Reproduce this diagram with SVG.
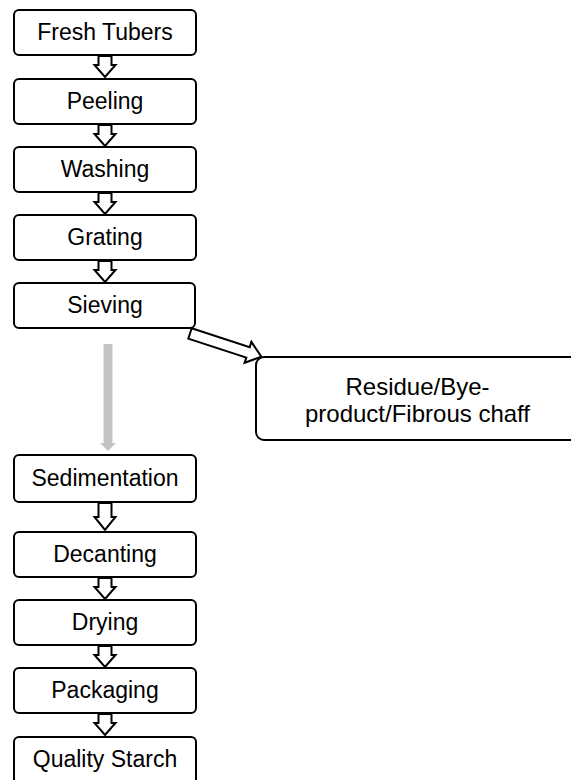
<svg xmlns="http://www.w3.org/2000/svg" width="571" height="780" viewBox="0 0 571 780">
<style>
.box{fill:#fff;stroke:#000;stroke-width:2}
.lbl{font-family:"Liberation Sans",Arial,sans-serif;font-size:23px;fill:#000;text-anchor:middle}
.big{font-size:24px}
.arr{fill:#fff;stroke:#000;stroke-width:2;stroke-linejoin:miter}
.gray{fill:#c3c3c3;stroke:none}
</style>
<rect width="571" height="780" fill="#fff"/>
<g id="connectors">
<polygon class="arr" points="98.5,56 111.5,56 111.5,65 115.5,65 105,77 94.5,65 98.5,65"/>
<polygon class="arr" points="98.5,125 111.5,125 111.5,134 115.5,134 105,146 94.5,134 98.5,134"/>
<polygon class="arr" points="98.5,193 111.5,193 111.5,202 115.5,202 105,214 94.5,202 98.5,202"/>
<polygon class="arr" points="98.5,261 111.5,261 111.5,270 115.5,270 105,282 94.5,270 98.5,270"/>
<polygon class="arr" points="98.5,503 111.5,503 111.5,517 115.5,517 105,530 94.5,517 98.5,517"/>
<polygon class="arr" points="98.5,578 111.5,578 111.5,587 115.5,587 105,599 94.5,587 98.5,587"/>
<polygon class="arr" points="98.5,646 111.5,646 111.5,655 115.5,655 105,667 94.5,655 98.5,655"/>
<polygon class="arr" points="98.5,714 111.5,714 111.5,723 115.5,723 105,735 94.5,723 98.5,723"/>
<polygon class="gray" points="103.5,344 112.5,344 112.5,443 116,443 108,451 100,443 103.5,443"/>
<polygon class="arr" transform="translate(190,333.5) rotate(18)" points="0,-5.5 61,-5.5 61,-11 75,0 61,11 61,5.5 0,5.5"/>
</g>
<g id="n1"><rect class="box" x="14" y="10" width="182" height="45" rx="5"/><text class="lbl" x="105" y="40">Fresh Tubers</text></g>
<g id="n2"><rect class="box" x="14" y="79" width="182" height="45" rx="5"/><text class="lbl" x="105" y="109">Peeling</text></g>
<g id="n3"><rect class="box" x="14" y="147" width="182" height="45" rx="5"/><text class="lbl" x="105" y="177">Washing</text></g>
<g id="n4"><rect class="box" x="14" y="215" width="182" height="45" rx="5"/><text class="lbl" x="105" y="245">Grating</text></g>
<g id="n5"><rect class="box" x="14" y="283" width="181" height="45" rx="5"/><text class="lbl" x="105" y="313">Sieving</text></g>
<g id="n6"><rect class="box" x="256" y="357" width="323" height="83" rx="8"/><text class="lbl big" x="417.5" y="395">Residue/Bye-</text><text class="lbl big" x="417.5" y="422">product/Fibrous chaff</text></g>
<g id="n7"><rect class="box" x="14" y="455" width="182" height="47" rx="5"/><text class="lbl" x="105" y="486">Sedimentation</text></g>
<g id="n8"><rect class="box" x="14" y="532" width="182" height="45" rx="5"/><text class="lbl" x="105" y="562">Decanting</text></g>
<g id="n9"><rect class="box" x="14" y="600" width="182" height="45" rx="5"/><text class="lbl" x="105" y="630">Drying</text></g>
<g id="n10"><rect class="box" x="14" y="668" width="182" height="45" rx="5"/><text class="lbl" x="105" y="698">Packaging</text></g>
<g id="n11"><rect class="box" x="14" y="737" width="182" height="50" rx="5"/><text class="lbl" x="105" y="767">Quality Starch</text></g>
</svg>
